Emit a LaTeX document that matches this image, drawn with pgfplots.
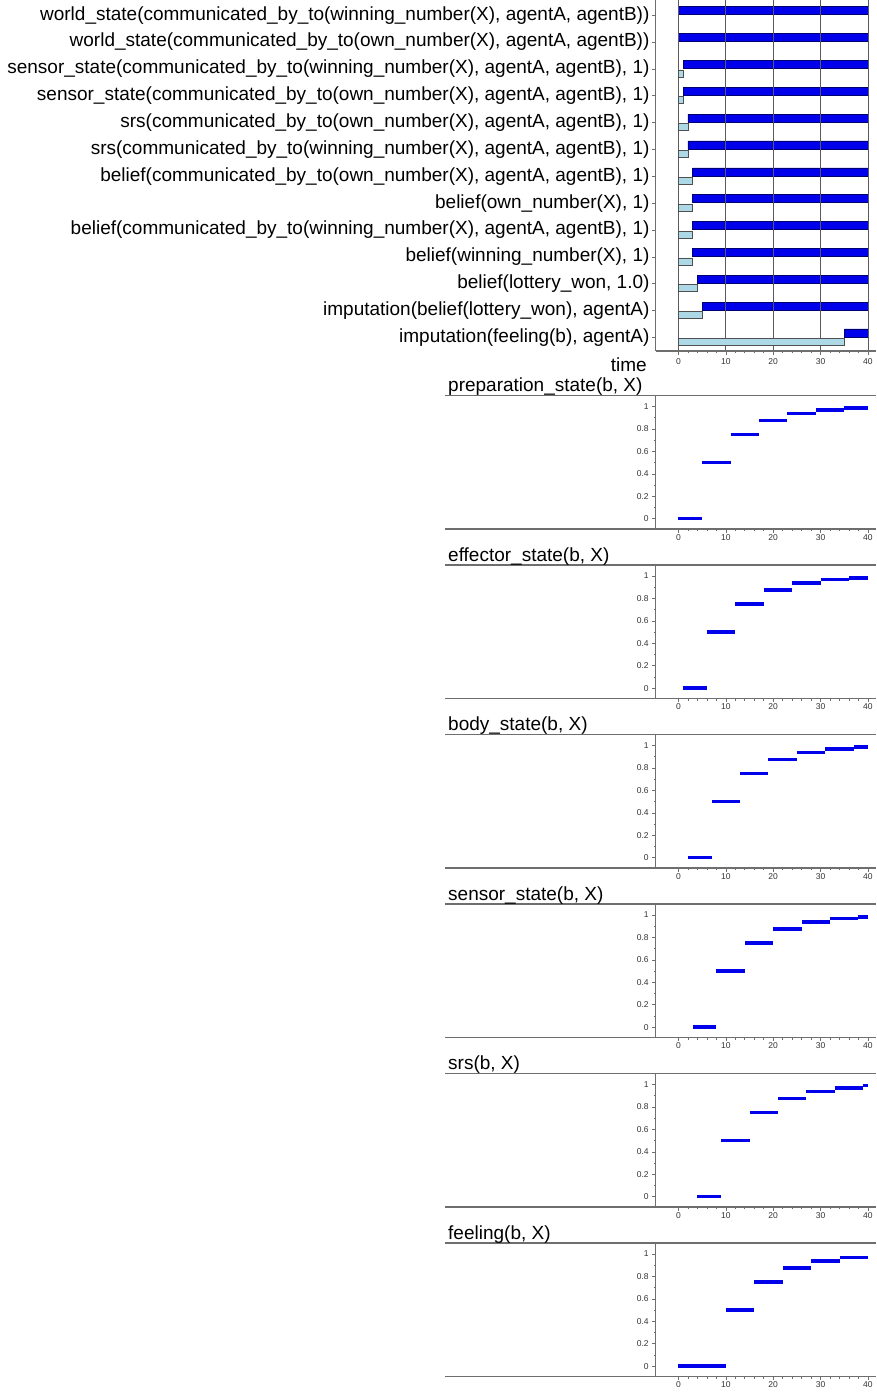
\documentclass[border=0pt]{standalone}
\usepackage{fontspec}
\setmainfont{Liberation Sans}
\usepackage{pgfplots}
\usepackage{pgfplotstable}
\pgfplotsset{compat=1.18}
\definecolor{barblue}{RGB}{0,0,235}
\definecolor{baredge}{RGB}{0,0,110}
\definecolor{lightbar}{RGB}{173,216,230}
\definecolor{lightedge}{RGB}{80,80,80}
\definecolor{axgray}{RGB}{110,110,110}
\definecolor{gridgray}{RGB}{90,90,90}
\newcommand{\labfont}{\fontsize{19}{22}\selectfont}
\newcommand{\tickfont}{\fontsize{8.5}{9}\selectfont}

\pgfplotstableread{
row start dur
1 0 40
2 0 40
3 1 39
4 1 39
5 2 38
6 2 38
7 3 37
8 3 37
9 3 37
10 3 37
11 4 36
12 5 35
13 35 5
}\ganttdata

\pgfplotstableread{
row start
3 1
4 1
5 2
6 2
7 3
8 3
9 3
10 3
11 4
12 5
13 35
}\lightdata

\pgfplotstableread{
x y
0 0
5 0
nan nan
5 0.5
11 0.5
nan nan
11 0.75
17 0.75
nan nan
17 0.875
23 0.875
nan nan
23 0.9375
29 0.9375
nan nan
29 0.96875
35 0.96875
nan nan
35 0.984375
40 0.984375
}\prepdata

\pgfplotstableread{
x y
1 0
6 0
nan nan
6 0.5
12 0.5
nan nan
12 0.75
18 0.75
nan nan
18 0.875
24 0.875
nan nan
24 0.9375
30 0.9375
nan nan
30 0.96875
36 0.96875
nan nan
36 0.984375
40 0.984375
}\effdata

\pgfplotstableread{
x y
2 0
7 0
nan nan
7 0.5
13 0.5
nan nan
13 0.75
19 0.75
nan nan
19 0.875
25 0.875
nan nan
25 0.9375
31 0.9375
nan nan
31 0.96875
37 0.96875
nan nan
37 0.984375
40 0.984375
}\bodydata

\pgfplotstableread{
x y
3 0
8 0
nan nan
8 0.5
14 0.5
nan nan
14 0.75
20 0.75
nan nan
20 0.875
26 0.875
nan nan
26 0.9375
32 0.9375
nan nan
32 0.96875
38 0.96875
nan nan
38 0.984375
40 0.984375
}\sensdata

\pgfplotstableread{
x y
4 0
9 0
nan nan
9 0.5
15 0.5
nan nan
15 0.75
21 0.75
nan nan
21 0.875
27 0.875
nan nan
27 0.9375
33 0.9375
nan nan
33 0.96875
39 0.96875
nan nan
39 0.9921875
40 0.9921875
}\srsdata

\pgfplotstableread{
x y
0 0
10 0
nan nan
10 0.5
16 0.5
nan nan
16 0.75
22 0.75
nan nan
22 0.875
28 0.875
nan nan
28 0.9375
34 0.9375
nan nan
34 0.96875
40 0.96875
}\feeldata

\pgfplotsset{
  panel/.style={
    scale only axis, width=220.3pt, height=133.5pt,
    xmin=-4.8, xmax=41.7, ymin=-0.092, ymax=1.098,
    axis x line*=bottom, axis y line*=left,
    axis line style={-, draw=axgray, line width=1.2pt},
    xtick={0,10,20,30,40}, minor x tick num=4,
    ytick={0,0.2,0.4,0.6,0.8,1}, minor y tick num=1,
    tick align=outside, major tick length=3.5pt, minor tick length=2pt,
    tick style={draw=axgray, line width=0.6pt},
    ticklabel style={font=\tickfont, text=black!80},
    xticklabel style={yshift=1.5pt},
    /pgf/number format/assume math mode=true,
    unbounded coords=jump,
    clip=false,
  },
  stepline/.style={draw=barblue, line width=3.6pt, line cap=butt},
}

\begin{document}
\begin{tikzpicture}
\useasboundingbox (0,0) rectangle (876pt,-1392pt);

% ---- top chart: dark bars and labels ----
\begin{axis}[
  at={(655.7pt,-351pt)}, anchor=south west,
  scale only axis, width=220.3pt, height=351pt,
  xmin=-4.8, xmax=41.7,
  ymin=0.434, ymax=13.506, y dir=reverse,
  xbar stacked, bar width=8pt,
  axis x line*=bottom, axis y line*=left,
  axis line style={-, draw=axgray, line width=1.2pt},
  xtick={0,10,20,30,40}, minor x tick num=4,
  xmajorgrids, major grid style={draw=gridgray, line width=0.8pt},
  ytick={1,...,13},
  yticklabels={
    {world\_state(communicated\_by\_to(winning\_number(X), agentA, agentB))},
    {world\_state(communicated\_by\_to(own\_number(X), agentA, agentB))},
    {sensor\_state(communicated\_by\_to(winning\_number(X), agentA, agentB), 1)},
    {sensor\_state(communicated\_by\_to(own\_number(X), agentA, agentB), 1)},
    {srs(communicated\_by\_to(own\_number(X), agentA, agentB), 1)},
    {srs(communicated\_by\_to(winning\_number(X), agentA, agentB), 1)},
    {belief(communicated\_by\_to(own\_number(X), agentA, agentB), 1)},
    {belief(own\_number(X), 1)},
    {belief(communicated\_by\_to(winning\_number(X), agentA, agentB), 1)},
    {belief(winning\_number(X), 1)},
    {belief(lottery\_won, 1.0)},
    {imputation(belief(lottery\_won), agentA)},
    {imputation(feeling(b), agentA)}},
  yticklabel style={font=\labfont, text=black, inner xsep=2pt},
  xticklabel style={font=\tickfont, text=black!80},
  /pgf/number format/assume math mode=true,
  tick align=outside, major tick length=4pt, minor tick length=2pt,
  tick style={draw=axgray, line width=0.6pt},
  axis on top,
  clip=false,
]
\addplot[draw=none, fill=none, bar shift=4.5pt] table[x=start, y=row]{\ganttdata};
\addplot[fill=barblue, draw=baredge, line width=0.6pt, bar shift=4.5pt] table[x=dur, y=row]{\ganttdata};
\end{axis}

% ---- top chart: light bars ----
\begin{axis}[
  at={(655.7pt,-351pt)}, anchor=south west,
  scale only axis, width=220.3pt, height=351pt,
  xmin=-4.8, xmax=41.7,
  ymin=0.434, ymax=13.506, y dir=reverse,
  hide axis, xbar, bar width=7pt,
]
\addplot[fill=lightbar, draw=lightedge, line width=0.7pt, bar shift=-4.5pt] table[x=start, y=row]{\lightdata};
\end{axis}

\node[font=\labfont, anchor=base east, inner sep=0pt] at (647pt,-371pt) {time};

% ---- panels ----
\begin{axis}[panel, at={(655.7pt,-529pt)}, anchor=south west]
\addplot[stepline] table[x=x,y=y]{\prepdata};
\end{axis}
\begin{axis}[panel, at={(655.7pt,-698.5pt)}, anchor=south west]
\addplot[stepline] table[x=x,y=y]{\effdata};
\end{axis}
\begin{axis}[panel, at={(655.7pt,-868pt)}, anchor=south west]
\addplot[stepline] table[x=x,y=y]{\bodydata};
\end{axis}
\begin{axis}[panel, at={(655.7pt,-1037.5pt)}, anchor=south west]
\addplot[stepline] table[x=x,y=y]{\sensdata};
\end{axis}
\begin{axis}[panel, at={(655.7pt,-1207pt)}, anchor=south west]
\addplot[stepline] table[x=x,y=y]{\srsdata};
\end{axis}
\begin{axis}[panel, at={(655.7pt,-1376.5pt)}, anchor=south west]
\addplot[stepline] table[x=x,y=y]{\feeldata};
\end{axis}

% panel frames and titles
\foreach \T/\name in {395.5/{preparation\_state(b, X)}, 565/{effector\_state(b, X)}, 734.5/{body\_state(b, X)}, 904/{sensor\_state(b, X)}, 1073.5/{srs(b, X)}, 1243/{feeling(b, X)}} {
  \draw[axgray, line width=1.2pt] (445pt,-\T pt) -- (876pt,-\T pt);
  \draw[axgray, line width=1.2pt] (445pt,-\T pt-133.5pt) -- (876pt,-\T pt-133.5pt);
  \node[font=\labfont, anchor=base west, inner sep=0pt] at (448pt,-\T pt+4pt) {\name};
}
\end{tikzpicture}
\end{document}
